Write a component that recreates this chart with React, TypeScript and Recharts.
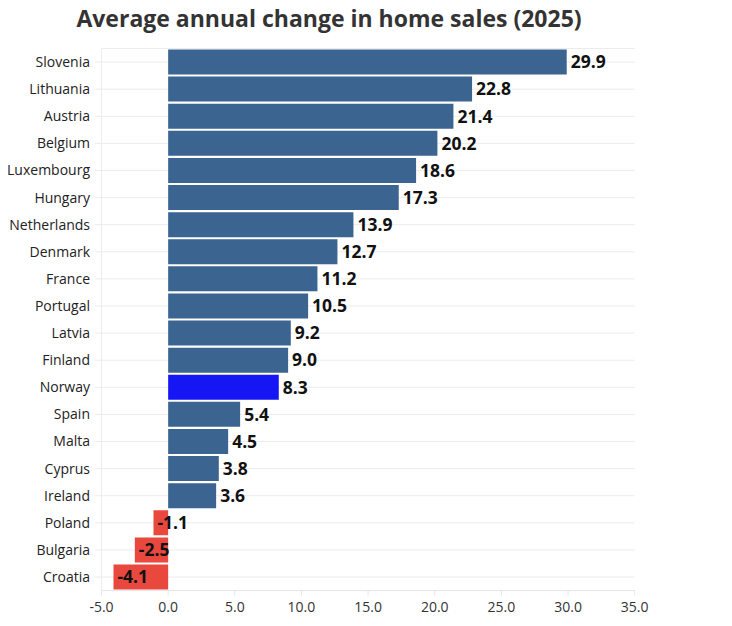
import React from "react";
import { BarChart, Bar, XAxis, YAxis, CartesianGrid, Cell, LabelList } from "recharts";

const countries = [
  "Slovenia", "Lithuania", "Austria", "Belgium", "Luxembourg", "Hungary", "Netherlands",
  "Denmark", "France", "Portugal", "Latvia", "Finland", "Norway", "Spain", "Malta",
  "Cyprus", "Ireland", "Poland", "Bulgaria", "Croatia",
];
const changes = [
  29.9, 22.8, 21.4, 20.2, 18.6, 17.3, 13.9, 12.7, 11.2, 10.5, 9.2, 9.0, 8.3, 5.4, 4.5,
  3.8, 3.6, -1.1, -2.5, -4.1,
];
const xTicks = [-5, 0, 5, 10, 15, 20, 25, 30, 35];
const highlight = "Norway";

const BLUE = "#3b6590";
const HIGHLIGHT = "#1616f5";
const RED = "#e8483e";

const data = countries.map((c, i) => ({ country: c, value: changes[i] }));

const FONT = "'Open Sans', sans-serif";

const ValueLabel = (props: any) => {
  const { x, y, width, height, value } = props;
  const left = Math.min(x, x + width);
  const right = Math.max(x, x + width);
  const tx = value >= 0 ? right + 4 : left + 4;
  return (
    <text
      x={tx}
      y={y + height / 2}
      dy="0.36em"
      textAnchor="start"
      fontFamily={FONT}
      fontSize={17.5}
      fontWeight={700}
      fill="#111"
    >
      {Number(value).toFixed(1)}
    </text>
  );
};

export default function App() {
  return (
    <div style={{ position: "relative", width: 724, height: 610, fontFamily: FONT }}>
      <div
        style={{
          position: "absolute",
          top: -1,
          left: 0,
          width: 642,
          textAlign: "center",
          fontSize: 23,
          lineHeight: "23px",
          fontWeight: 700,
          color: "#333",
          whiteSpace: "nowrap",
        }}
      >
        Average annual change in home sales (2025)
      </div>
      <BarChart
        width={724}
        height={610}
        data={data}
        layout="vertical"
        margin={{ top: 40.5, right: 97.3, bottom: 0, left: 0 }}
        barCategoryGap={1}
      >
        <CartesianGrid horizontal={true} vertical={false} stroke="#ececec" strokeWidth={1} />
        <XAxis
          type="number"
          domain={[-5, 35]}
          ticks={xTicks}
          tickFormatter={(v: number) => v.toFixed(1)}
          height={27.4}
          tickSize={5}
          tickMargin={6}
          axisLine={{ stroke: "#e6e6e6" }}
          tickLine={{ stroke: "#e6e6e6" }}
          tick={{ fontFamily: FONT, fontSize: 14, fill: "#333" }}
          interval={0}
          allowDataOverflow
        />
        <YAxis
          type="category"
          dataKey="country"
          width={93.5}
          tickSize={6.5}
          tickMargin={5}
          axisLine={{ stroke: "#ececec" }}
          tickLine={{ stroke: "#ececec" }}
          tick={{ fontFamily: FONT, fontSize: 14, fill: "#222" }}
          interval={0}
        />
        <Bar dataKey="value" isAnimationActive={false}>
          {data.map((d, i) => (
            <Cell
              key={i}
              fill={d.country === highlight ? HIGHLIGHT : d.value < 0 ? RED : BLUE}
            />
          ))}
          <LabelList dataKey="value" content={<ValueLabel />} />
        </Bar>
      </BarChart>
    </div>
  );
}
